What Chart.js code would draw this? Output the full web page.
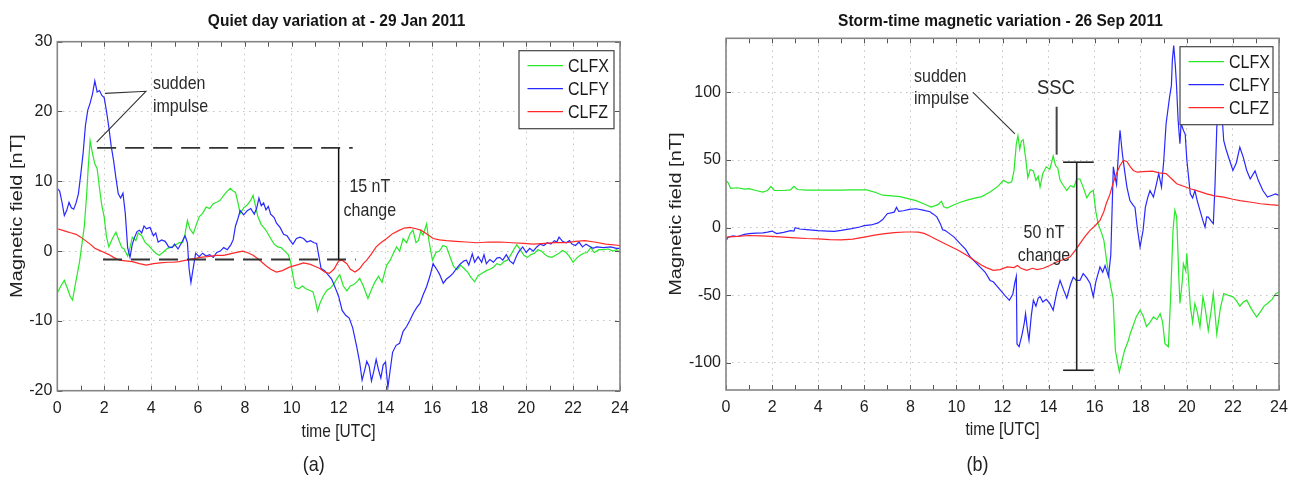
<!DOCTYPE html>
<html>
<head>
<meta charset="utf-8">
<title>Magnetic variation</title>
<script src="https://cdn.jsdelivr.net/npm/chart.js@4.4.1/dist/chart.umd.min.js"></script>
<style>
  html, body { margin: 0; padding: 0; background: #fff; }
  #wrap { position: relative; width: 1299px; height: 486px; }
  #boxA { position: absolute; left: 0; top: 0; }
  #boxB { position: absolute; left: 650px; top: 0; }
</style>
</head>
<body>
<div id="wrap">
  <div id="boxA"><canvas id="chartA" width="650" height="486"></canvas></div>
  <div id="boxB"><canvas id="chartB" width="649" height="486"></canvas></div>
</div>
<script>
// ----- DATA -----

const hourTicks = [0, 2, 4, 6, 8, 10, 12, 14, 16, 18, 20, 22, 24];
const quietYTicks = [-20, -10, 0, 10, 20, 30];
const stormYTicks = [-100, -50, 0, 50, 100];
const seriesNames = ["CLFX", "CLFY", "CLFZ"];

// (a) quiet day, 29 Jan 2011
const quietTimeX = [0, 0.15, 0.3, 0.45, 0.55, 0.65, 0.8, 0.95, 1.05, 1.15, 1.25, 1.32, 1.4, 1.5, 1.6, 1.7, 1.8, 1.9, 2.0, 2.1, 2.2, 2.35, 2.5, 2.6, 2.75, 2.85, 3.0, 3.1, 3.2, 3.35, 3.45, 3.6, 3.75, 3.9, 4.05, 4.2, 4.35, 4.5, 4.7, 4.9, 5.05, 5.2, 5.35, 5.45, 5.55, 5.65, 5.8, 5.9, 6.05, 6.2, 6.35, 6.5, 6.65, 6.8, 6.95, 7.1, 7.25, 7.38, 7.5, 7.6, 7.7, 7.8, 7.95, 8.1, 8.25, 8.35, 8.45, 8.55, 8.7, 8.85, 8.95, 9.1, 9.25, 9.4, 9.55, 9.7, 9.85, 9.95, 10.05, 10.15, 10.3, 10.45, 10.6, 10.75, 10.9, 11.0, 11.1, 11.2, 11.35, 11.5, 11.65, 11.8, 11.95, 12.05, 12.2, 12.35, 12.5, 12.65, 12.8, 12.9, 13.05, 13.25, 13.4, 13.55, 13.7, 13.85, 14.05, 14.2, 14.35, 14.47, 14.6, 14.75, 14.9, 15.05, 15.17, 15.3, 15.4, 15.5, 15.6, 15.75, 15.85, 16.0, 16.15, 16.3, 16.45, 16.6, 16.75, 16.9, 17.05, 17.2, 17.35, 17.5, 17.65, 17.8, 17.95, 18.1, 18.3, 18.45, 18.6, 18.75, 18.9, 19.05, 19.2, 19.35, 19.5, 19.6, 19.75, 19.9, 20.05, 20.2, 20.35, 20.5, 20.65, 20.8, 20.95, 21.1, 21.25, 21.4, 21.55, 21.7, 21.85, 22.0, 22.15, 22.3, 22.45, 22.6, 22.75, 22.9, 23.1, 23.3, 23.5, 23.7, 23.85, 24];
const quietX = [-6, -5, -4.2, -5.5, -6.5, -7, -4.2, -1.5, 1, 3.5, 8, 12, 15.8, 14, 12.5, 11.8, 9, 6.5, 4.9, 2, 0.6, 1.8, 2.7, 1.8, 0.5, 0.3, -0.7, 0.5, 2, 1.5, 2.6, 2.2, 1.2, 0.8, 0.2, -0.3, -0.6, -0.2, 0.4, 0.6, 0.9, 1.2, 1.2, 2.5, 4.4, 3.2, 2.5, 3.5, 4.9, 5.4, 6.3, 6.1, 6.8, 7.0, 7.3, 8, 8.6, 9.0, 8.6, 8.4, 7, 5.4, 6.2, 6.6, 7.3, 8.0, 6.5, 5, 3.8, 3.2, 2.7, 1.8, 1.0, 0.6, 0.5, 0.0, -0.5, -1.5, -3.5, -5.2, -5.4, -5.0, -5.4, -5.6, -5.8, -7, -8.6, -7.5, -6.4, -5.6, -5.3, -4.7, -3.8, -3.4, -5, -5.7, -5, -4.8, -4.3, -3.9, -5, -6.8, -5.5, -4.4, -3.6, -4.5, -2.0, -1.3, -0.2, 0.6, 0.0, 1.8, 1.2, 2.5, 3.0, 1.2, 1.5, 2.8, 2.3, 3.9, 1.5, -1.3, -0.2, 0, 0.8, 0.6, -0.8, -2.2, -2.7, -2.0, -2.5, -3.0, -3.8, -4.4, -3.5, -3.2, -2.8, -2.6, -2.3, -1.8, -2.0, -1.5, -1.3, -0.5, 0.4, 0.9, 0.2, -0.6, -0.9, -0.5, -0.3, 0.2, 0, -0.5, -0.8, -0.9, -0.6, -0.3, 0.1, -0.2, -0.8, -1.6, -1.0, -0.6, -0.3, -0.2, 0.5, -0.2, 0.2, 0.2, 0.3, 0.0, 0.2, -0.2];

const quietTimeY = [0, 0.1, 0.2, 0.3, 0.4, 0.5, 0.6, 0.7, 0.8, 0.9, 1.0, 1.1, 1.2, 1.3, 1.4, 1.5, 1.6, 1.7, 1.8, 1.9, 2.0, 2.1, 2.2, 2.3, 2.4, 2.5, 2.6, 2.7, 2.8, 2.9, 3.0, 3.1, 3.2, 3.3, 3.4, 3.5, 3.6, 3.7, 3.8, 3.95, 4.1, 4.2, 4.3, 4.45, 4.6, 4.75, 4.9, 5.0, 5.15, 5.3, 5.45, 5.55, 5.62, 5.7, 5.78, 5.9, 6.05, 6.2, 6.35, 6.5, 6.65, 6.8, 6.95, 7.1, 7.25, 7.4, 7.5, 7.6, 7.7, 7.8, 7.95, 8.1, 8.25, 8.4, 8.5, 8.6, 8.7, 8.8, 8.9, 9.0, 9.1, 9.25, 9.35, 9.5, 9.65, 9.8, 9.93, 10.05, 10.2, 10.35, 10.5, 10.65, 10.8, 10.95, 11.06, 11.15, 11.25, 11.4, 11.55, 11.7, 11.85, 12.0, 12.15, 12.3, 12.45, 12.6, 12.77, 12.9, 13.0, 13.1, 13.2, 13.3, 13.4, 13.5, 13.6, 13.7, 13.8, 13.9, 14.0, 14.1, 14.2, 14.3, 14.45, 14.6, 14.75, 14.9, 15.04, 15.2, 15.35, 15.47, 15.6, 15.75, 15.9, 16.03, 16.1, 16.2, 16.3, 16.46, 16.6, 16.75, 16.88, 17.0, 17.1, 17.2, 17.35, 17.45, 17.55, 17.7, 17.8, 17.95, 18.1, 18.2, 18.3, 18.45, 18.6, 18.75, 18.87, 19.0, 19.15, 19.3, 19.45, 19.6, 19.7, 19.85, 20.0, 20.15, 20.3, 20.45, 20.6, 20.75, 20.9, 21.05, 21.2, 21.3, 21.4, 21.55, 21.7, 21.85, 21.95, 22.1, 22.25, 22.4, 22.55, 22.7, 22.85, 23.0, 23.3, 23.6, 23.85, 24];
const quietY = [9, 8.6, 7, 5.1, 5.8, 7, 6.2, 6, 6.9, 8.2, 11, 14, 18, 20.2, 21.2, 22.5, 24.4, 22.8, 23, 22.3, 22, 20, 17.7, 15, 13, 10.5, 8.2, 7.6, 8.3, 5.4, 0.5, -0.9, 1, 2, 2.8, 3, 2.6, 3.6, 3.2, 3.4, 2.2, 2.6, 1.3, 1.6, 1.4, 0.6, 0.5, 1, 0.3, 1.2, 2.2, 1.2, -2.5, -4.5, -2.8, -0.3, -0.8, -0.3, -0.7, -0.5, -0.9, -0.2, 0, 0.5, 0.2, 0.9, 1.6, 3.6, 4.6, 5.8, 5.2, 5.8, 6.1, 5.3, 6.1, 7.6, 6.5, 6.9, 5.9, 6.4, 5.3, 4.8, 4.0, 3.4, 2.4, 2.2, 1.5, 1.0, 1.8, 2.0, 1.8, 1.3, 1.5, 1.2, 1.1, -0.6, -2.5, -2.8, -3.4, -4.0, -5.2, -6.5, -8.5, -9.2, -9.6, -11, -13.7, -16, -18.5, -17.2, -15.8, -16.5, -18.6, -17.2, -15.5, -17, -18.2, -16.3, -15.9, -19.5, -17, -14.5, -13.5, -13.2, -11.5, -10.8, -9.9, -8.8, -8.0, -7.5, -6.3, -5.1, -3.5, -1.8, -2.2, -2.7, -3.3, -4.6, -4.0, -3.6, -3.2, -2.6, -2.2, -1.8, -1.4, -1.3, -2, -0.4, -1.6, -0.8, -1.6, -0.5, -1.8, -1.2, -1.6, -1.0, -0.9, -1.3, -0.5, -1.4, -1.8, -0.6, 0, 0.6, -0.2, 0.4, 0, 0.6, 1.0, 0.8, 1.2, 1.0, 1.5, 1.3, 2.0, 1.4, 1.2, 1.5, 1, 0.8, 1.3, 0.6, 1.0, 0.7, 0.4, 0.6, 0.5, 0.6, 0.4, 0.4];

const quietTimeZ = [0, 0.2, 0.4, 0.6, 0.8, 1.0, 1.2, 1.4, 1.6, 1.8, 2.0, 2.2, 2.4, 2.65, 2.9, 3.2, 3.5, 3.8, 4.1, 4.4, 4.7, 4.95, 5.2, 5.5, 5.8, 6.1, 6.4, 6.8, 7.1, 7.5, 7.9, 8.1, 8.35, 8.6, 8.9, 9.1, 9.35, 9.6, 9.9, 10.2, 10.5, 10.8, 11.0, 11.2, 11.4, 11.6, 11.8, 12.0, 12.15, 12.35, 12.5, 12.7, 12.9, 13.05, 13.2, 13.4, 13.6, 13.8, 14.05, 14.3, 14.6, 14.8, 15.04, 15.3, 15.5, 15.75, 16.03, 16.3, 16.6, 17.0, 17.45, 17.9, 18.4, 18.9, 19.4, 19.9, 20.3, 20.8, 21.2, 21.7, 22.1, 22.5, 22.9, 23.4, 24];
const quietZ = [3.2, 3.0, 2.8, 2.6, 2.4, 2.0, 1.5, 1.0, 0.4, 0.1, -0.2, -0.5, -0.9, -1.3, -1.4, -1.5, -1.8, -2.0, -1.8, -1.7, -1.6, -1.6, -1.5, -1.3, -1.1, -0.9, -0.8, -0.6, -0.6, -0.3, 0.0, -0.2, -0.6, -1.2, -2.1, -2.6, -3.0, -2.8, -2.3, -2.0, -1.7, -1.9, -2.2, -2.5, -3.0, -3.2, -2.6, -1.4, -1.3, -1.8, -2.6, -3.0, -2.5, -1.8, -1.3, -0.4, 0.6, 1.2, 1.8, 2.5, 3.0, 3.3, 3.4, 3.2, 3.0, 2.5, 1.8, 1.6, 1.5, 1.4, 1.3, 1.2, 1.3, 1.3, 1.2, 1.1, 1.0, 1.1, 1.2, 1.2, 1.4, 1.5, 1.3, 1.0, 0.8];

// (b) storm time, 26 Sep 2011
const stormTimeX = [0, 0.1, 0.2, 0.5, 0.8, 1.0, 1.3, 1.6, 1.8, 1.95, 2.1, 2.5, 2.8, 2.95, 3.1, 3.5, 4.0, 4.5, 5.0, 5.45, 6.1, 6.5, 6.8, 7.2, 7.55, 7.9, 8.25, 8.6, 8.9, 9.2, 9.35, 9.45, 9.6, 9.9, 10.2, 10.5, 10.8, 11.1, 11.46, 11.8, 12.04, 12.25, 12.4, 12.5, 12.6, 12.67, 12.75, 12.82, 12.9, 13.0, 13.1, 13.2, 13.34, 13.45, 13.55, 13.63, 13.75, 13.9, 14.05, 14.2, 14.3, 14.4, 14.5, 14.65, 14.79, 14.95, 15.1, 15.22, 15.36, 15.5, 15.66, 15.8, 15.94, 16.05, 16.15, 16.3, 16.4, 16.55, 16.7, 16.8, 16.9, 17.0, 17.07, 17.15, 17.3, 17.45, 17.55, 17.68, 17.8, 17.97, 18.1, 18.25, 18.4, 18.55, 18.7, 18.84, 18.95, 19.05, 19.2, 19.3, 19.4, 19.48, 19.56, 19.65, 19.7, 19.8, 19.85, 19.95, 20.0, 20.1, 20.15, 20.25, 20.35, 20.45, 20.57, 20.7, 20.8, 20.93, 21.05, 21.15, 21.3, 21.45, 21.6, 21.8, 22.0, 22.15, 22.3, 22.45, 22.6, 22.8, 23.03, 23.2, 23.35, 23.5, 23.7, 23.85, 24];
const stormX = [35, 33, 29, 29.5, 28.5, 28.8, 27.5, 26.3, 27.5, 30.5, 27.5, 27.5, 28, 30.5, 28.2, 27.8, 27.7, 27.8, 27.8, 28, 28, 26, 24, 23.5, 23, 21.5, 20, 17.5, 15.2, 17, 19.5, 15.5, 14.5, 17, 19, 20.5, 21.8, 23, 26.3, 30.5, 35, 33, 34, 42, 62, 68, 58, 64, 65, 52, 37, 43, 42, 35, 38, 30, 40, 45, 43, 53, 46, 44, 35, 31, 27.5, 31, 30, 36, 36, 30, 22, 26, 27.6, 12, 3, -4, -9.4, -28, -44, -52, -91, -100, -106.6, -101, -90.6, -84, -78, -72, -66, -61, -65, -73, -70, -66, -68, -63.5, -70, -85.7, -88, -50, -2, 13, 8, -35, -56, -40, -26.6, -32, -19, -45, -58, -70, -56, -62, -73.4, -51, -60, -76, -62, -48.7, -78.6, -60, -48.7, -50, -51, -54, -58, -55, -53.6, -60, -66, -62, -58, -56, -53, -49, -47.6];

const stormTimeY = [0, 0.1, 0.3, 0.5, 0.8, 1.0, 1.3, 1.6, 1.8, 2.0, 2.2, 2.5, 2.8, 2.95, 3.0, 3.2, 3.5, 4.0, 4.4, 4.7, 5.0, 5.45, 5.8, 6.0, 6.3, 6.6, 6.8, 7.0, 7.3, 7.4, 7.5, 7.7, 7.95, 8.25, 8.55, 8.85, 9.0, 9.15, 9.3, 9.4, 9.5, 9.7, 9.9, 10.16, 10.4, 10.6, 10.8, 11.02, 11.25, 11.46, 11.6, 11.75, 11.9, 12.1, 12.3, 12.45, 12.53, 12.6, 12.63, 12.72, 12.85, 12.95, 13.0, 13.08, 13.15, 13.25, 13.34, 13.45, 13.55, 13.63, 13.75, 13.9, 14.05, 14.2, 14.35, 14.5, 14.65, 14.79, 14.95, 15.07, 15.2, 15.36, 15.5, 15.65, 15.8, 15.94, 16.05, 16.23, 16.35, 16.45, 16.6, 16.7, 16.81, 16.88, 16.95, 17.05, 17.1, 17.2, 17.3, 17.4, 17.53, 17.65, 17.75, 17.85, 17.97, 18.1, 18.2, 18.3, 18.4, 18.55, 18.65, 18.78, 18.9, 19.0, 19.1, 19.25, 19.33, 19.37, 19.43, 19.5, 19.55, 19.62, 19.7, 19.75, 19.85, 19.93, 20.0, 20.15, 20.25, 20.35, 20.45, 20.57, 20.7, 20.79, 20.86, 20.93, 21.05, 21.15, 21.22, 21.3, 21.38, 21.45, 21.52, 21.6, 21.7, 21.85, 22.0, 22.15, 22.3, 22.45, 22.6, 22.75, 22.96, 23.1, 23.3, 23.5, 23.7, 23.85, 24];
const stormY = [-9.4, -7, -6, -6.5, -5, -4.4, -4, -3.8, -3.3, -2.5, -4.4, -3.5, -2.2, -2.5, 0, -1, -1.5, -2.2, -2.5, -2.7, -2, -0.7, 0.5, 1.5, 2, 3.5, 6, 10.3, 11.5, 15, 12, 12.5, 13.5, 14, 13, 11.8, 10, 8, 3, -1.5, -2, -4.4, -7, -11.8, -16, -21.7, -25, -29, -33, -39, -40, -43, -46, -50, -53.7, -49, -41, -36, -86, -88, -78.8, -70, -63.5, -75, -83, -65, -53.7, -58, -52, -51, -55, -53, -56, -61, -48, -39, -46, -52, -42, -36.6, -39, -39, -34, -37, -41, -51, -40, -29, -33, -28, -36, -20, 45, 38, 32, 60, 72, 55, 42, 30, 20, 17, 15, 0, -14.3, -2, 15, 22, 27.5, 22.6, 30, 40, 30, 50, 76.8, 96.5, 105, 123.5, 134.6, 120, 106, 80, 62, 77, 72, 69, 50, 25, 22, 27.5, 20, 12.8, 5, 0.4, 8, 7.8, 5, 2.9, 30, 74, 92, 96.5, 85, 64.5, 58, 50, 42.3, 48, 59.5, 52, 42.3, 36, 42, 35, 27.5, 22.6, 24, 25, 23.8];

const stormTimeZ = [0, 0.5, 1.0, 1.5, 2.0, 2.5, 3.0, 3.5, 4.0, 4.5, 5.0, 5.5, 6.0, 6.45, 6.9, 7.3, 7.75, 8.1, 8.35, 8.6, 8.8, 9.05, 9.35, 9.7, 10.1, 10.5, 10.8, 11.1, 11.3, 11.6, 11.9, 12.2, 12.5, 12.65, 12.8, 13.05, 13.3, 13.5, 13.77, 14.05, 14.35, 14.65, 14.93, 15.15, 15.36, 15.6, 15.8, 16.05, 16.23, 16.4, 16.5, 16.67, 16.8, 16.95, 17.1, 17.25, 17.4, 17.55, 17.68, 17.85, 18.1, 18.5, 18.8, 19.1, 19.35, 19.56, 19.8, 20.15, 20.5, 20.86, 21.2, 21.6, 22.0, 22.3, 22.8, 23.2, 23.6, 24];
const stormZ = [-7, -6.5, -5.8, -6, -6.5, -7, -7.5, -8, -8.3, -8.8, -9, -8.5, -7, -5.5, -4.4, -3.6, -3.2, -3.2, -3.3, -4.2, -5.8, -8, -10.6, -13.5, -16.8, -21, -24.5, -27.8, -29.5, -31.5, -31, -29, -29.5, -28, -30, -31.5, -30, -31, -30, -28, -25.4, -23.5, -21.7, -17, -11.8, -6, -2, 2, 5.4, 12, 17.7, 25, 33, 40, 46, 49.7, 49, 45, 42.3, 41, 41.5, 41.8, 40.5, 40, 36, 32.5, 31, 28.8, 27, 25, 23.5, 22.6, 21, 20, 18.8, 17.7, 17, 16.5];

// ----- STYLE -----

const GREEN = "rgb(40, 232, 40)";
const BLUE = "rgb(40, 40, 255)";
const RED = "rgb(255, 40, 40)";
const SANS = '"Liberation Sans", Arial, sans-serif';

function points(times, values) {
  return times.map((t, i) => ({ x: t, y: values[i] }));
}

// text that is a bit taller than wide, like the original figure
function tallText(ctx, text, x, y, stretch) {
  ctx.save();
  ctx.translate(x, y);
  ctx.scale(1, stretch);
  ctx.fillText(text, 0, 0);
  ctx.restore();
}

// ----- DECORATION PLUGIN (frame, inner ticks, notes, legend, labels) -----

const decor = {
  id: "decor",
  afterDatasetsDraw(chart, args, opts) {
    const { ctx, chartArea: a } = chart;
    const sx = chart.scales.x;
    const sy = chart.scales.y;
    ctx.save();

    // inner tick marks, matlab style
    ctx.strokeStyle = "#555";
    ctx.lineWidth = 1;
    ctx.beginPath();
    for (let h = 0; h <= 24; h++) {
      const px = Math.round(sx.getPixelForValue(h)) + 0.5;
      ctx.moveTo(px, a.bottom); ctx.lineTo(px, a.bottom - 5);
      ctx.moveTo(px, a.top); ctx.lineTo(px, a.top + 5);
    }
    sy.ticks.forEach((t) => {
      const py = Math.round(sy.getPixelForValue(t.value)) + 0.5;
      ctx.moveTo(a.left, py); ctx.lineTo(a.left + 5, py);
      ctx.moveTo(a.right, py); ctx.lineTo(a.right - 5, py);
    });
    ctx.stroke();

    // box
    ctx.strokeStyle = "#858585";
    ctx.lineWidth = 1.6;
    ctx.strokeRect(a.left, a.top, a.right - a.left, a.bottom - a.top);

    // annotation lines
    opts.lines.forEach((l) => {
      ctx.strokeStyle = l.color;
      ctx.lineWidth = l.width;
      ctx.setLineDash(l.dash || []);
      ctx.beginPath();
      l.pts.forEach(([t, v], i) => {
        const px = sx.getPixelForValue(t);
        const py = sy.getPixelForValue(v);
        if (i === 0) ctx.moveTo(px, py); else ctx.lineTo(px, py);
      });
      ctx.stroke();
    });
    ctx.setLineDash([]);

    // annotation texts
    ctx.fillStyle = "#2a2a2a";
    ctx.textBaseline = "middle";
    opts.texts.forEach((tx) => {
      ctx.font = (tx.size || 16) + "px " + SANS;
      ctx.textAlign = tx.align;
      tallText(ctx, tx.text, sx.getPixelForValue(tx.t), sy.getPixelForValue(tx.v), 1.12);
    });

    // legend box
    const lg = opts.legend;
    const bx = a.right - lg.inset - lg.w;
    const by = a.top + lg.top;
    ctx.fillStyle = "#fff";
    ctx.fillRect(bx, by, lg.w, lg.h);
    ctx.strokeStyle = "#444";
    ctx.lineWidth = 1.2;
    ctx.strokeRect(bx, by, lg.w, lg.h);
    const colors = [GREEN, BLUE, RED];
    ctx.font = "16px " + SANS;
    ctx.textAlign = "left";
    seriesNames.forEach((name, i) => {
      const ry = by + 15 + i * 23;
      ctx.strokeStyle = colors[i];
      ctx.lineWidth = 1.3;
      ctx.beginPath();
      ctx.moveTo(bx + 8.5, ry); ctx.lineTo(bx + 44, ry);
      ctx.stroke();
      ctx.fillStyle = "#1a1a1a";
      tallText(ctx, name, bx + 49, ry + 1, 1.15);
    });

    // title, axis labels, panel letter
    const cx = (a.left + a.right) / 2;
    ctx.fillStyle = "#151515";
    ctx.textAlign = "center";
    ctx.font = "bold 15.5px " + SANS;
    tallText(ctx, opts.title, cx + opts.titleShift, 21, 1.12);
    ctx.font = "15.5px " + SANS;
    ctx.fillStyle = "#222";
    tallText(ctx, "time [UTC]", cx, opts.xLabelY, 1.15);
    ctx.font = "18px " + SANS;
    tallText(ctx, opts.panel, cx - 25, 466, 1.1);

    ctx.save();
    ctx.translate(opts.yLabelX, (a.top + a.bottom) / 2);
    ctx.rotate(-Math.PI / 2);
    ctx.scale(1.25, 1);
    ctx.font = "16px " + SANS;
    ctx.fillText("Magnetic field [nT]", 0, 0);
    ctx.restore();

    ctx.restore();
  },
};

function makeChart(canvasId, cfg) {
  return new Chart(document.getElementById(canvasId), {
    type: "line",
    data: {
      datasets: [
        { label: seriesNames[0], data: points(cfg.tX, cfg.vX), borderColor: GREEN, order: 3 },
        { label: seriesNames[1], data: points(cfg.tY, cfg.vY), borderColor: BLUE, order: 2 },
        { label: seriesNames[2], data: points(cfg.tZ, cfg.vZ), borderColor: RED, order: 1 },
      ],
    },
    options: {
      responsive: false,
      animation: false,
      layout: { padding: cfg.padding },
      elements: {
        line: { borderWidth: 1.2, tension: 0, fill: false },
        point: { radius: 0 },
      },
      plugins: {
        legend: { display: false },
        tooltip: { enabled: false },
        decor: cfg.decor,
      },
      scales: {
        x: {
          type: "linear",
          min: 0,
          max: 24,
          afterBuildTicks: (s) => { s.ticks = hourTicks.map((v) => ({ value: v })); },
          afterFit: (s) => { s.height = cfg.xHeight; },
          ticks: { font: { family: SANS, size: 16 }, color: "#1e1e1e", padding: 8, maxRotation: 0, autoSkip: false },
          grid: { color: "#c2c2c2", lineWidth: 1, drawTicks: false },
          border: { display: false, dash: [1.5, 4.5] },
        },
        y: {
          type: "linear",
          min: cfg.yMin,
          max: cfg.yMax,
          afterBuildTicks: (s) => { s.ticks = cfg.yTicks.map((v) => ({ value: v })); },
          afterFit: (s) => { s.width = cfg.yWidth; },
          ticks: { font: { family: SANS, size: 16 }, color: "#1e1e1e", padding: 5, autoSkip: false },
          grid: { color: "#c2c2c2", lineWidth: 1, drawTicks: false },
          border: { display: false, dash: [1.5, 4.5] },
        },
      },
    },
    plugins: [decor],
  });
}

// ----- CHARTS -----

makeChart("chartA", {
  tX: quietTimeX, vX: quietX, tY: quietTimeY, vY: quietY, tZ: quietTimeZ, vZ: quietZ,
  yMin: -20, yMax: 30, yTicks: quietYTicks,
  padding: { top: 41.7, right: 30, bottom: 0, left: 0 },
  yWidth: 57.3, xHeight: 95.3,
  decor: {
    title: "Quiet day variation at - 29 Jan 2011",
    titleShift: -2,
    panel: "(a)",
    xLabelY: 432,
    yLabelX: 17.5,
    legend: { inset: 6, top: 9, w: 95, h: 78 },
    lines: [
      { pts: [[2.03, 22.6], [3.78, 22.9], [1.68, 15.6]], color: "#333", width: 1.1 },
      { pts: [[1.7, 14.8], [12.6, 14.8]], color: "#333", width: 1.8, dash: [19, 9] },
      { pts: [[1.95, -1.2], [12.73, -1.2]], color: "#333", width: 1.8, dash: [19, 9] },
      { pts: [[12, 14.8], [12, -1.2]], color: "#111", width: 1.5 },
    ],
    texts: [
      { t: 4.08, v: 24.0, text: "sudden", align: "left" },
      { t: 4.08, v: 20.7, text: "impulse", align: "left" },
      { t: 13.33, v: 9.2, text: "15 nT", align: "center" },
      { t: 13.33, v: 5.8, text: "change", align: "center" },
    ],
  },
});

makeChart("chartB", {
  tX: stormTimeX, vX: stormX, tY: stormTimeY, vY: stormY, tZ: stormTimeZ, vZ: stormZ,
  yMin: -120, yMax: 140, yTicks: stormYTicks,
  padding: { top: 38.3, right: 20, bottom: 0, left: 0 },
  yWidth: 76, xHeight: 96,
  decor: {
    title: "Storm-time magnetic variation - 26 Sep 2011",
    titleShift: -2,
    panel: "(b)",
    xLabelY: 430,
    yLabelX: 26.7,
    legend: { inset: 6, top: 8.4, w: 93, h: 78 },
    lines: [
      { pts: [[10.72, 100], [12.54, 69.4]], color: "#333", width: 1.1 },
      { pts: [[14.35, 89.4], [14.35, 54]], color: "#444", width: 2 },
      { pts: [[15.22, 48.4], [15.22, -105.4]], color: "#222", width: 1.6 },
      { pts: [[14.63, 48.4], [15.96, 48.4]], color: "#222", width: 1.6 },
      { pts: [[14.63, -105.4], [15.96, -105.4]], color: "#222", width: 1.6 },
    ],
    texts: [
      { t: 8.16, v: 111, text: "sudden", align: "left" },
      { t: 8.16, v: 94.8, text: "impulse", align: "left" },
      { t: 14.32, v: 102.8, text: "SSC", align: "center", size: 18.5 },
      { t: 13.8, v: -4.2, text: "50 nT", align: "center" },
      { t: 13.8, v: -21.2, text: "change", align: "center" },
    ],
  },
});
</script>
</body>
</html>
